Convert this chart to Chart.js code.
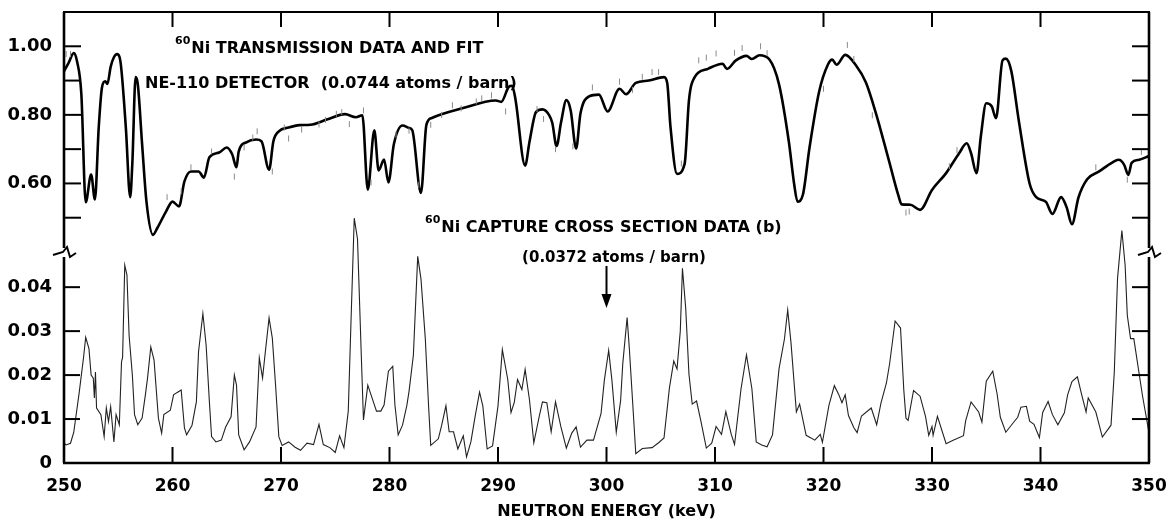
<!DOCTYPE html>
<html>
<head>
<meta charset="utf-8">
<script src="https://cdn.jsdelivr.net/npm/chart.js@4.4.0/dist/chart.umd.min.js"></script>
<style>
  html, body { margin: 0; padding: 0; background: #fff; }
  #wrap { width: 1175px; height: 525px; }
</style>
</head>
<body>
<div id="wrap"><canvas id="chart" width="1175" height="525"></canvas></div>
<script>
// 60Ni transmission fit (upper panel)
const fitEnergy = [250.0,250.4,250.9,251.2,251.6,252.0,252.5,252.85,253.2,253.5,253.8,254.0,254.3,254.6,254.9,255.2,255.7,256.1,256.3,256.6,256.8,257.2,257.6,258.2,258.6,259.4,260.0,260.6,261.1,261.7,262.4,262.9,263.4,264.3,265.0,265.5,265.9,266.1,266.8,267.7,268.2,268.9,269.3,269.8,270.7,271.7,272.7,274.3,275.9,276.9,277.5,278.0,278.6,279.0,279.5,279.9,280.4,281.2,281.8,282.1,282.9,283.4,283.9,286.7,289.8,290.3,291.0,291.3,291.6,292.5,292.9,293.5,294.1,294.7,295.0,295.4,295.8,296.3,296.7,297.2,297.6,298.4,299.3,300.1,301.2,301.8,302.7,303.9,305.3,305.6,305.9,306.5,307.2,307.6,307.9,309.4,310.7,311.1,311.9,312.9,313.4,314.1,315.0,315.9,316.8,317.3,317.6,318.1,318.7,319.6,320.4,320.8,321.2,322.0,323.0,323.9,324.8,326.0,326.9,327.2,328.0,328.9,330.0,331.3,332.5,333.2,333.6,334.1,334.5,335.0,335.5,335.9,336.5,336.8,337.3,338.0,339.0,339.6,340.5,341.1,341.9,342.4,342.9,343.5,344.3,345.4,346.6,347.2,347.7,348.1,348.4,349.1,350.0];
const fitTrans = [0.927,0.95,0.98,0.956,0.86,0.545,0.626,0.553,0.763,0.88,0.898,0.89,0.94,0.968,0.977,0.956,0.763,0.56,0.66,0.91,0.89,0.714,0.547,0.45,0.47,0.518,0.547,0.533,0.606,0.635,0.635,0.617,0.676,0.69,0.705,0.685,0.647,0.693,0.72,0.728,0.723,0.64,0.723,0.752,0.763,0.77,0.771,0.787,0.802,0.793,0.799,0.582,0.755,0.638,0.67,0.603,0.714,0.769,0.762,0.755,0.572,0.771,0.791,0.819,0.842,0.838,0.882,0.885,0.847,0.652,0.721,0.808,0.816,0.80,0.777,0.709,0.776,0.843,0.813,0.702,0.804,0.854,0.859,0.81,0.876,0.86,0.893,0.90,0.91,0.892,0.764,0.628,0.657,0.842,0.895,0.935,0.949,0.934,0.958,0.972,0.963,0.974,0.962,0.889,0.723,0.597,0.547,0.567,0.702,0.868,0.946,0.961,0.946,0.975,0.944,0.895,0.808,0.67,0.565,0.539,0.538,0.523,0.581,0.63,0.688,0.717,0.688,0.63,0.737,0.834,0.825,0.79,0.959,0.964,0.929,0.783,0.599,0.56,0.546,0.511,0.56,0.531,0.481,0.559,0.612,0.635,0.661,0.669,0.655,0.625,0.66,0.669,0.68];

// measured transmission points (grey dashes)
const dataEnergy = [250.2,250.6,259.5,260.8,261.7,263.6,265.7,266.6,267.4,267.8,269.2,270.3,270.7,271.9,273.5,274.1,275.1,275.6,276.3,277.6,278.3,280.6,281.8,282.7,283.8,284.8,285.8,286.6,288.0,288.5,289.4,290.7,291.5,293.6,294.2,295.3,296.9,298.7,301.2,302.4,303.3,304.2,304.8,306.9,308.5,309.2,310.1,311.8,312.5,314.2,314.8,320.0,322.2,322.8,324.5,327.6,327.9,331.6,332.3,345.1,348.0,349.3];
const dataTrans = [0.977,0.977,0.56,0.577,0.647,0.693,0.62,0.705,0.734,0.752,0.635,0.763,0.731,0.757,0.772,0.785,0.803,0.808,0.773,0.813,0.603,0.742,0.754,0.596,0.771,0.80,0.828,0.819,0.839,0.848,0.857,0.81,0.89,0.817,0.788,0.70,0.708,0.88,0.897,0.873,0.911,0.925,0.925,0.658,0.959,0.967,0.979,0.981,0.995,1.0,0.98,0.876,1.004,0.963,0.799,0.515,0.518,0.65,0.697,0.647,0.611,0.692];

// 60Ni capture cross section (lower panel), barns
const capEnergy = [250.0,250.2,250.6,250.9,251.4,251.8,252.0,252.3,252.5,252.7,252.8,252.9,253.0,253.4,253.7,253.9,254.1,254.3,254.6,254.8,255.1,255.3,255.4,255.6,255.8,256.0,256.3,256.5,256.8,257.2,257.5,257.7,258.0,258.3,258.7,259.0,259.2,259.8,260.1,260.4,260.8,261.1,261.3,261.8,262.2,262.4,262.8,263.1,263.4,263.6,264.0,264.5,264.9,265.4,265.7,265.9,266.1,266.6,267.1,267.7,268.0,268.3,268.5,268.9,269.2,269.5,269.8,270.1,270.7,271.3,271.8,272.4,273.0,273.5,273.9,274.5,275.0,275.4,275.8,276.2,276.45,276.75,277.05,277.4,277.6,278.0,278.3,278.8,279.2,279.5,279.9,280.3,280.5,280.8,281.2,281.6,281.8,282.2,282.6,282.9,283.3,283.6,283.8,284.5,284.8,285.2,285.5,285.9,286.3,286.8,287.1,287.5,287.9,288.3,288.6,289.0,289.5,290.0,290.4,290.9,291.2,291.5,291.8,292.2,292.5,292.9,293.3,293.8,294.1,294.5,294.9,295.3,295.8,296.3,296.8,297.2,297.6,298.2,298.8,299.5,299.8,300.2,300.5,300.9,301.3,301.5,301.9,302.1,302.4,302.7,303.3,304.2,304.8,305.3,305.8,306.2,306.5,306.8,307.0,307.3,307.6,307.9,308.3,308.7,309.2,309.7,310.1,310.6,311.0,311.5,311.8,312.4,312.9,313.4,313.8,314.3,314.8,315.3,315.9,316.4,316.7,317.0,317.5,317.8,318.4,319.2,319.7,319.9,320.5,321.0,321.4,321.7,322.0,322.3,322.8,323.1,323.5,324.4,324.9,325.3,325.8,326.1,326.6,327.1,327.4,327.6,327.8,328.3,328.9,329.4,329.7,330.0,330.1,330.5,331.3,331.9,332.9,333.1,333.6,334.3,334.6,335.0,335.6,336.0,336.3,336.8,337.6,337.9,338.2,338.7,339.0,339.4,339.9,340.2,340.7,341.1,341.6,342.2,342.5,342.9,343.4,343.8,344.2,344.4,345.1,345.7,346.5,346.8,347.1,347.5,347.8,348.0,348.3,348.6,349.4,350.0];
const capSigma = [0.0045,0.0041,0.0045,0.007,0.016,0.024,0.0286,0.026,0.020,0.0193,0.0148,0.0207,0.0125,0.011,0.006,0.0125,0.0094,0.0128,0.0048,0.011,0.0087,0.023,0.024,0.045,0.0428,0.029,0.020,0.011,0.0087,0.0102,0.0155,0.0193,0.0264,0.0234,0.0102,0.0068,0.011,0.012,0.0155,0.016,0.0166,0.008,0.0064,0.0086,0.0139,0.0253,0.034,0.0268,0.0139,0.006,0.0048,0.0052,0.0082,0.0105,0.02,0.0177,0.0064,0.003,0.0048,0.0082,0.0239,0.0193,0.024,0.033,0.0284,0.0177,0.006,0.004,0.0048,0.0036,0.0029,0.0045,0.0042,0.0088,0.0042,0.0035,0.0024,0.0062,0.0035,0.0118,0.032,0.0557,0.051,0.0245,0.0098,0.0177,0.0155,0.0118,0.0118,0.0132,0.0209,0.022,0.0132,0.0064,0.0086,0.0131,0.0163,0.0245,0.047,0.0419,0.0283,0.0131,0.004,0.0055,0.0085,0.013,0.0071,0.0071,0.0032,0.0062,0.0014,0.0048,0.0107,0.0161,0.013,0.0032,0.0039,0.013,0.0258,0.019,0.0115,0.0138,0.019,0.0167,0.0213,0.0144,0.0046,0.0106,0.0139,0.0137,0.0071,0.0139,0.0082,0.0034,0.0068,0.0082,0.0036,0.0052,0.0052,0.0113,0.0188,0.0256,0.0188,0.007,0.0142,0.0226,0.0331,0.0262,0.0142,0.0021,0.0033,0.0035,0.0046,0.0057,0.0171,0.0232,0.0214,0.030,0.0443,0.0352,0.0202,0.0134,0.0141,0.0095,0.0034,0.0045,0.0083,0.0065,0.0117,0.0065,0.0042,0.0169,0.0246,0.0169,0.0048,0.0041,0.0037,0.0064,0.0214,0.0282,0.0348,0.0275,0.0116,0.0134,0.0063,0.0052,0.0065,0.0047,0.0131,0.0176,0.0156,0.0137,0.0155,0.0108,0.008,0.0069,0.0107,0.0125,0.0087,0.0137,0.0182,0.0227,0.0323,0.0307,0.0166,0.0102,0.0097,0.0165,0.0152,0.0106,0.0063,0.0083,0.0063,0.0106,0.0044,0.0051,0.0062,0.0096,0.0139,0.0116,0.0093,0.0186,0.0209,0.0157,0.0104,0.007,0.0095,0.0104,0.0127,0.0129,0.0095,0.0088,0.0058,0.0115,0.014,0.011,0.0087,0.0114,0.0155,0.0185,0.0196,0.0155,0.0116,0.0148,0.0116,0.0059,0.0086,0.0206,0.042,0.0529,0.045,0.0336,0.0283,0.0283,0.0153,0.0069];

const energyTicks = [250, 260, 270, 280, 290, 300, 310, 320, 330, 340, 350];
const transTicks = [0.60, 0.80, 1.00];
const transMinor = [0.5, 0.6, 0.7, 0.8, 0.9, 1.0];
const capTicks = [0, 0.01, 0.02, 0.03, 0.04];

const pts = (xs, ys) => xs.map((x, i) => ({x: x, y: ys[i]}));
const FONT = 'DejaVu Sans';

// frame, inward ticks, axis breaks and labels
const framePlugin = {
    id: 'frame',
    afterDraw(chart) {
        const {ctx, chartArea: a, scales} = chart;
        const x = scales.x, yT = scales.yT, yB = scales.yB;
        const brk = Math.round(yT.bottom);
        const line = (x1, y1, x2, y2) => { ctx.beginPath(); ctx.moveTo(x1, y1); ctx.lineTo(x2, y2); ctx.stroke(); };

        ctx.save();
        ctx.strokeStyle = '#000';
        ctx.lineWidth = 2.2;
        line(a.left - 1, a.top, a.right + 1, a.top);
        ctx.lineWidth = 2.6;
        line(a.left - 1, a.bottom, a.right + 1, a.bottom);
        [a.left, a.right].forEach(px => {
            line(px, a.top, px, brk - 4);
            line(px, brk + 5, px, a.bottom);
            ctx.lineWidth = 2;
            ctx.beginPath();
            ctx.moveTo(px - 11, brk + 3);
            ctx.lineTo(px - 1, brk);
            ctx.lineTo(px + 3, brk - 5);
            ctx.lineTo(px + 6, brk + 5);
            ctx.lineTo(px + 12, brk + 1);
            ctx.stroke();
            ctx.lineWidth = 2.6;
        });

        ctx.lineWidth = 2;
        energyTicks.slice(1, -1).forEach(v => {
            const px = x.getPixelForValue(v);
            line(px, a.top, px, a.top + 15);
            line(px, a.bottom, px, a.bottom - 16);
        });
        transMinor.forEach(v => {
            const py = yT.getPixelForValue(v);
            line(a.left, py, a.left + 17, py);
            line(a.right, py, a.right - 17, py);
        });
        capTicks.slice(1).forEach(v => {
            const py = yB.getPixelForValue(v);
            line(a.left, py, a.left + 16, py);
            line(a.right, py, a.right - 17, py);
        });

        // annotations
        ctx.fillStyle = '#000';
        ctx.textBaseline = 'alphabetic';
        const iso = (tx, ty, text) => {
            ctx.font = 'bold 11px "' + FONT + '"';
            ctx.fillText('60', tx, ty - 9);
            const w = ctx.measureText('60').width;
            ctx.font = 'bold 16px "' + FONT + '"';
            ctx.fillText(text, tx + w + 1, ty);
        };
        iso(175, 53, 'Ni TRANSMISSION DATA AND FIT');
        ctx.font = 'bold 16px "' + FONT + '"';
        ctx.fillText('NE-110 DETECTOR  (0.0744 atoms / barn)', 145, 88);
        iso(425, 232, 'Ni CAPTURE CROSS SECTION DATA (b)');
        ctx.font = 'bold 15px "' + FONT + '"';
        ctx.textAlign = 'center';
        ctx.fillText('(0.0372 atoms / barn)', 614, 262);
        ctx.textAlign = 'left';

        // arrow at 300 keV
        const ax = x.getPixelForValue(300);
        ctx.lineWidth = 2;
        line(ax, 266, ax, 298);
        ctx.beginPath();
        ctx.moveTo(ax - 5, 294);
        ctx.lineTo(ax + 5, 294);
        ctx.lineTo(ax, 308);
        ctx.closePath();
        ctx.fill();
        ctx.restore();
    }
};

const noPad = s => { s.paddingTop = 0; s.paddingBottom = 0; s.paddingLeft = 0; s.paddingRight = 0; };

new Chart(document.getElementById('chart').getContext('2d'), {
    type: 'line',
    data: {
        datasets: [
            {
                label: 'data',
                data: pts(dataEnergy, dataTrans),
                yAxisID: 'yT',
                showLine: false,
                pointStyle: 'line',
                rotation: 90,
                pointRadius: 3,
                borderColor: '#8a8a8a',
                borderWidth: 1
            },
            {
                label: 'fit',
                data: pts(fitEnergy, fitTrans),
                yAxisID: 'yT',
                borderColor: '#000',
                borderWidth: 2.6,
                pointRadius: 0,
                cubicInterpolationMode: 'monotone'
            },
            {
                label: 'capture',
                data: pts(capEnergy, capSigma),
                yAxisID: 'yB',
                borderColor: '#222',
                borderWidth: 1.1,
                pointRadius: 0,
                tension: 0,
                clip: false
            }
        ]
    },
    options: {
        responsive: false,
        animation: false,
        layout: { padding: { top: 12, right: 26, left: 0, bottom: 0 } },
        plugins: { legend: { display: false }, tooltip: { enabled: false } },
        scales: {
            x: {
                type: 'linear',
                min: 250,
                max: 350,
                afterBuildTicks: s => { s.ticks = energyTicks.map(v => ({value: v})); },
                ticks: { autoSkip: false, maxRotation: 0, padding: 13, color: '#000',
                         font: { family: FONT, size: 17, weight: 'bold' } },
                grid: { display: false, drawTicks: false },
                border: { display: false },
                title: { display: true, text: 'NEUTRON ENERGY (keV)', color: '#000',
                         font: { family: FONT, size: 16, weight: 'bold' }, padding: { top: 0, bottom: 4 } },
                afterFit: s => { s.height = 62; noPad(s); }
            },
            yB: {
                type: 'linear',
                position: 'left',
                stack: 'panels',
                stackWeight: 211,
                min: 0,
                max: 0.048,
                afterBuildTicks: s => { s.ticks = capTicks.map(v => ({value: v})); },
                ticks: { padding: 12, color: '#000', font: { family: FONT, size: 18, weight: 'bold' },
                         callback: v => v === 0 ? '0' : v.toFixed(2) },
                grid: { display: false, drawTicks: false },
                border: { display: false },
                afterFit: s => { s.width = 64; noPad(s); }
            },
            yT: {
                type: 'linear',
                position: 'left',
                stack: 'panels',
                stackWeight: 240,
                min: 0.40,
                max: 1.10,
                afterBuildTicks: s => { s.ticks = transTicks.map(v => ({value: v})); },
                ticks: { padding: 12, color: '#000', font: { family: FONT, size: 18, weight: 'bold' },
                         callback: v => v.toFixed(2) },
                grid: { display: false, drawTicks: false },
                border: { display: false },
                afterFit: s => { s.width = 64; noPad(s); }
            }
        }
    },
    plugins: [framePlugin]
});
</script>
</body>
</html>
